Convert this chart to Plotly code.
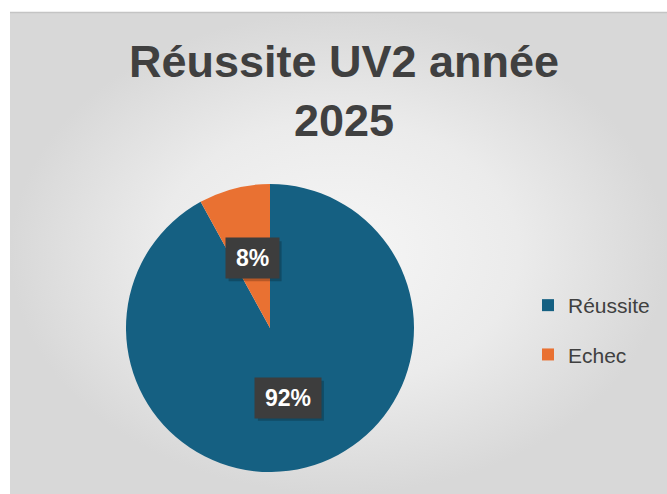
import math
import plotly.graph_objects as go

# ---- data ----
categories = ["Réussite", "Echec"]
values = [92, 8]
colors = ["#156082", "#E97132"]
title_lines = ["Réussite UV2 année", "2025"]

W, H = 667, 494
pie_dom_x = [126 / W, 414 / W]
pie_dom_y = [1 - 472 / H, 1 - 184 / H]

fig = go.Figure()

# background panel with radial gradient (decoration)
fig.add_trace(go.Scatter(
    x=[10, W, W, 10, 10], y=[12, 12, H, H, 12],
    mode="lines", line=dict(width=0), fill="toself",
    fillgradient=dict(type="radial",
                      colorscale=[[0, "#f6f6f6"], [0.55, "#ebebeb"], [1, "#d8d8d8"]]),
    hoverinfo="skip", showlegend=False,
))

# legend entries (dummy traces so spacing can match)
for cat, col in zip(categories, colors):
    fig.add_trace(go.Scatter(
        x=[None], y=[None], mode="markers", name=cat, legendgroup=cat,
        marker=dict(symbol="square", size=12, color=col, line=dict(width=0)),
    ))

fig.add_trace(go.Pie(
    labels=categories, values=values, sort=False, direction="clockwise",
    rotation=0, marker=dict(colors=colors, line=dict(width=0)),
    textinfo="none", hoverinfo="label+percent", showlegend=False,
    domain=dict(x=pie_dom_x, y=pie_dom_y),
))

# percentage label boxes at half radius along each slice's mid-angle
cx = (pie_dom_x[0] + pie_dom_x[1]) / 2 * W
cy = (1 - (pie_dom_y[0] + pie_dom_y[1]) / 2) * H
r = min((pie_dom_x[1] - pie_dom_x[0]) * W, (pie_dom_y[1] - pie_dom_y[0]) * H) / 2
total = sum(values)
cum = 0
annotations = []
shapes = [dict(type="line", xref="paper", yref="paper", x0=10 / W, x1=1,
               y0=1 - 12.5 / H, y1=1 - 12.5 / H, line=dict(color="#c4c4c4", width=1.5))]
for v in values:
    mid = (cum + v / 2) / total * 2 * math.pi
    cum += v
    px = cx + 0.5 * r * math.sin(mid)
    py = cy - 0.5 * r * math.cos(mid)
    txt = f"{round(100 * v / total)}%"
    bw = 13 * len(txt) + 13
    bh = 26
    pad = 7
    # soft shadow behind the box
    shapes.append(dict(type="rect", xref="paper", yref="paper",
                       xsizemode="pixel", ysizemode="pixel",
                       xanchor=px / W, yanchor=1 - py / H,
                       x0=-(bw / 2 + pad) + 3, x1=(bw / 2 + pad) + 3,
                       y0=-(bh / 2 + pad) - 3, y1=(bh / 2 + pad) - 3,
                       fillcolor="rgba(0,0,0,0.22)", line=dict(width=0)))
    annotations.append(dict(text=txt, x=px / W, y=1 - py / H, xref="paper", yref="paper",
                            xanchor="center", yanchor="middle",
                            showarrow=False, width=bw, height=bh, borderpad=pad,
                            bgcolor="#3d3d3d",
                            font=dict(family="Liberation Sans", size=23,
                                      weight="bold", color="#ffffff")))

fig.update_layout(
    width=W, height=H,
    margin=dict(l=0, r=0, t=0, b=0),
    paper_bgcolor="#ffffff", plot_bgcolor="rgba(0,0,0,0)",
    xaxis=dict(range=[0, W], visible=False, fixedrange=True),
    yaxis=dict(range=[H, 0], visible=False, fixedrange=True),
    title=dict(text="<br>".join(title_lines), x=344 / W, xanchor="center",
               y=1 - 77 / H, yanchor="middle",
               font=dict(family="Liberation Sans", size=45, weight="bold", color="#404040")),
    legend=dict(x=528 / W, xanchor="left", y=1 - 285 / H, yanchor="top",
                traceorder="grouped", tracegroupgap=19,
                bgcolor="rgba(0,0,0,0)",
                font=dict(family="Liberation Sans", size=21, color="#404040")),
    annotations=annotations,
    shapes=shapes,
    showlegend=True,
)

fig.write_html("out.html")
